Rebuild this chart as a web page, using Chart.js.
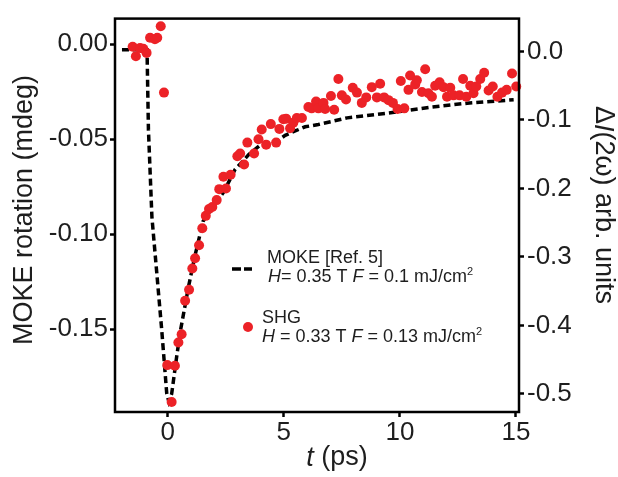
<!DOCTYPE html>
<html><head><meta charset="utf-8">
<script src="https://cdn.jsdelivr.net/npm/chart.js@4"></script>
<style>html,body{margin:0;padding:0;background:#fff}#wrap{width:618px;height:477px;position:relative}</style>
</head><body><div id="wrap"><canvas id="c" width="618" height="477"></canvas></div>
<script>
// MOKE [Ref. 5] (left axis, mdeg)
const mokeT   = [-1.97, -0.89, -0.83, -0.68, -0.26, -0.04, 0.05, 0.17, 0.39, 0.56, 0.89, 1.18, 1.53, 2.0, 2.4, 2.9, 3.5, 4.0, 4.6, 5.06, 5.49, 5.92, 6.49, 7.73, 9.88, 11.3, 12.9, 14.9];
const mokeVal = [-0.003, -0.003, -0.045, -0.091, -0.150, -0.184, -0.188, -0.184, -0.164, -0.150, -0.128, -0.111, -0.093, -0.085, -0.078, -0.066, -0.058, -0.053, -0.052, -0.048, -0.0457, -0.0435, -0.0423, -0.0388, -0.0357, -0.0332, -0.0311, -0.0293];
// SHG (right axis, arb. units)
const shgT   = [-1.51, -1.37, -1.19, -1.05, -0.91, -0.76, -0.55, -0.45, -0.30, -0.16, -0.02, 0.17, 0.31, 0.46, 0.60, 0.75, 0.92, 1.06, 1.18, 1.35, 1.49, 1.64, 1.78, 1.92, 2.11, 2.22, 2.40, 2.51, 2.71, 3.00, 3.12, 3.29, 3.43, 3.72, 3.91, 4.05, 4.24, 4.44, 4.67, 4.81, 4.98, 5.10, 5.27, 5.41, 5.56, 5.78, 6.06, 6.20, 6.39, 6.49, 6.71, 6.78, 7.03, 7.17, 7.35, 7.50, 7.68, 7.97, 8.15, 8.36, 8.55, 8.79, 9.01, 9.15, 9.32, 9.51, 9.70, 9.90, 10.04, 10.19, 10.37, 10.44, 10.66, 10.73, 10.95, 11.09, 11.23, 11.38, 11.52, 11.71, 11.88, 12.03, 12.17, 12.31, 12.57, 12.72, 12.86, 13.03, 13.17, 13.29, 13.46, 13.63, 13.82, 14.00, 14.20, 14.40, 14.60, 14.83, 15.01];
const shgVal = [0.007, -0.007, 0.005, 0.004, -0.002, 0.020, 0.018, 0.020, 0.037, -0.060, -0.458, -0.512, -0.459, -0.425, -0.413, -0.364, -0.348, -0.317, -0.302, -0.283, -0.258, -0.240, -0.230, -0.227, -0.217, -0.201, -0.183, -0.200, -0.180, -0.153, -0.149, -0.165, -0.133, -0.149, -0.128, -0.114, -0.136, -0.106, -0.133, -0.113, -0.099, -0.098, -0.112, -0.104, -0.097, -0.097, -0.081, -0.083, -0.073, -0.083, -0.075, -0.084, -0.065, -0.085, -0.040, -0.064, -0.070, -0.053, -0.060, -0.075, -0.067, -0.052, -0.067, -0.047, -0.067, -0.071, -0.075, -0.084, -0.043, -0.083, -0.056, -0.035, -0.048, -0.042, -0.059, -0.026, -0.061, -0.066, -0.050, -0.045, -0.052, -0.066, -0.053, -0.064, -0.064, -0.040, -0.066, -0.050, -0.061, -0.051, -0.040, -0.031, -0.057, -0.051, -0.066, -0.060, -0.056, -0.032, -0.051];

const xTicks = [0, 5, 10, 15];
const xTickLabels = ['0', '5', '10', '15'];
const leftTicks = [0, -0.05, -0.10, -0.15];
const leftTickLabels = ['0.00', '-0.05', '-0.10', '-0.15'];
const rightTicks = [0, -0.1, -0.2, -0.3, -0.4, -0.5];
const rightTickLabels = ['0.0', '-0.1', '-0.2', '-0.3', '-0.4', '-0.5'];

const FONT = "'Liberation Sans', Arial, sans-serif";
const TXT = '#1e1e1e';
const RED = '#ec2227';

function drawSegs(ctx, segs, x, y, center) {
  let total = 0;
  const w = segs.map(s => { ctx.font = (s.italic ? 'italic ' : '') + s.size + 'px ' + FONT; const m = ctx.measureText(s.t).width; total += m; return m; });
  let cx = center ? x - total / 2 : x;
  ctx.textBaseline = 'middle';
  ctx.textAlign = 'left';
  segs.forEach((s, i) => {
    ctx.font = (s.italic ? 'italic ' : '') + s.size + 'px ' + FONT;
    ctx.fillText(s.t, cx, y + (s.dy || 0));
    cx += w[i];
  });
}

const decor = {
  id: 'decor',
  afterDatasetsDraw(chart) {
    const ctx = chart.ctx, a = chart.chartArea;
    ctx.save();
    ctx.strokeStyle = '#000';
    ctx.lineWidth = 2.5;
    ctx.strokeRect(a.left, a.top, a.right - a.left, a.bottom - a.top);
    ctx.fillStyle = TXT;
    // axis titles
    ctx.save();
    ctx.translate(25, 210); ctx.rotate(-Math.PI / 2);
    drawSegs(ctx, [{t: 'MOKE rotation (mdeg)', size: 27}], 0, 0, true);
    ctx.restore();
    ctx.save();
    ctx.translate(603, 205); ctx.rotate(Math.PI / 2);
    drawSegs(ctx, [{t: 'Δ', size: 27}, {t: 'I', size: 27, italic: true}, {t: '(2ω) arb. units', size: 27}], 0, 0, true);
    ctx.restore();
    drawSegs(ctx, [{t: 't', size: 27, italic: true}, {t: ' (ps)', size: 27}], 337, 458, true);
    // legend
    ctx.strokeStyle = '#000'; ctx.lineWidth = 3.5; ctx.setLineDash([]);
    ctx.beginPath(); ctx.moveTo(232, 269); ctx.lineTo(241, 269); ctx.moveTo(244, 269); ctx.lineTo(252, 269); ctx.stroke();
    ctx.fillStyle = RED; ctx.beginPath(); ctx.arc(248, 327, 5, 0, Math.PI * 2); ctx.fill();
    ctx.fillStyle = TXT;
    drawSegs(ctx, [{t: 'MOKE [Ref. 5]', size: 18}], 267, 258, false);
    drawSegs(ctx, [{t: 'H', size: 18, italic: true}, {t: '= 0.35 T ', size: 18}, {t: 'F', size: 18, italic: true}, {t: ' = 0.1 mJ/cm', size: 18}, {t: '2', size: 11, dy: -5}], 268, 277, false);
    drawSegs(ctx, [{t: 'SHG', size: 18}], 262, 318, false);
    drawSegs(ctx, [{t: 'H', size: 18, italic: true}, {t: ' = 0.33 T ', size: 18}, {t: 'F', size: 18, italic: true}, {t: ' = 0.13 mJ/cm', size: 18}, {t: '2', size: 11, dy: -5}], 262, 337, false);
    ctx.restore();
  }
};

function tickSetter(vals) { return s => { s.ticks = vals.map(v => ({value: v})); }; }
const gridOpts = {drawOnChartArea: false, drawTicks: true, tickLength: 5, tickWidth: 2.5, color: '#000'};

new Chart(document.getElementById('c'), {
  type: 'scatter',
  data: {
    datasets: [
      {
        label: 'SHG', data: shgT.map((t, i) => ({x: t, y: shgVal[i]})),
        xAxisID: 'x', yAxisID: 'yR', pointRadius: 5, pointHoverRadius: 5,
        backgroundColor: RED, borderWidth: 0, clip: false, order: 0
      },
      {
        label: 'MOKE [Ref. 5]', data: mokeT.map((t, i) => ({x: t, y: mokeVal[i]})),
        xAxisID: 'x', yAxisID: 'yL', showLine: true, pointRadius: 0, borderColor: '#000',
        borderWidth: 3.5, borderDash: [7, 4], fill: false, tension: 0, order: 1
      }
    ]
  },
  options: {
    responsive: false, devicePixelRatio: 1, animation: false,
    layout: {padding: {top: 6, left: 0, right: 0, bottom: 0}},
    plugins: {legend: {display: false}, tooltip: {enabled: false}},
    scales: {
      x: {
        type: 'linear', position: 'bottom', min: -2.27, max: 15.13,
        grid: gridOpts, border: {display: false},
        afterBuildTicks: tickSetter(xTicks),
        afterFit: s => { s.height = 65; },
        ticks: {font: {size: 26, family: FONT}, color: TXT, padding: 0, maxRotation: 0,
          callback: (v, i) => xTickLabels[i]}
      },
      yL: {
        type: 'linear', position: 'left', min: -0.1935, max: 0.0134,
        grid: gridOpts, border: {display: false},
        afterBuildTicks: tickSetter(leftTicks),
        afterFit: s => { s.width = 115; },
        ticks: {font: {size: 26, family: FONT}, color: TXT, padding: 2,
          callback: (v, i) => leftTickLabels[i]}
      },
      yR: {
        type: 'linear', position: 'right', min: -0.5265, max: 0.0481,
        grid: gridOpts, border: {display: false},
        afterBuildTicks: tickSetter(rightTicks),
        afterFit: s => { s.width = 99; },
        ticks: {font: {size: 26, family: FONT}, color: TXT, padding: 3,
          callback: (v, i) => rightTickLabels[i]}
      }
    }
  },
  plugins: [decor]
});
</script></body></html>
